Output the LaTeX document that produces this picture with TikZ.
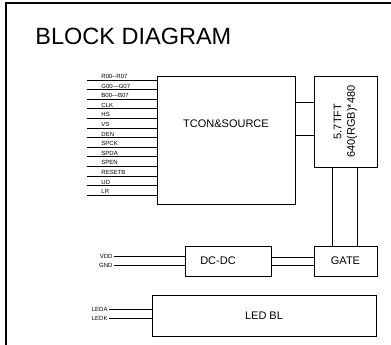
\documentclass[tikz,border=0pt]{standalone}
\usepackage{fontspec}
\setmainfont{Liberation Sans}
\usepackage{tikz}

\begin{document}
\begin{tikzpicture}[x=1pt, y=-1pt, line width=0.9pt,
    blk/.style={draw, rectangle, inner sep=0pt, font=\fontsize{11}{13.5}\selectfont},
    sig/.style={inner sep=1pt, font=\fontsize{6}{7}\selectfont}]

        \useasboundingbox (0,0) rectangle (391,345);

        % Moldura e titulo
        \draw[line width=1.3pt] (6,345) -- (6,3) -- (391,3);
        \node[anchor=base west, inner sep=0pt, font=\fontsize{23.5}{28}\selectfont] (titulo) at (35,45) {BLOCK DIAGRAM};

        % Blocos
        \node[blk, minimum width=138, minimum height=128,
              label={[font=\fontsize{11}{13.5}\selectfont, yshift=16pt]center:TCON\&SOURCE}] (tcon) at (226,140) {};
        \node[blk, minimum width=63, minimum height=91] (tft) at (345.5,121.5) {};
        \node[rotate=90, align=center, font=\fontsize{11}{13.5}\selectfont] (tfttxt) at (tft.center) {5.7TFT\\640(RGB)*480};
        \node[blk, minimum width=86, minimum height=30,
              label={[font=\fontsize{11}{13.5}\selectfont, xshift=-10pt]center:DC-DC}] (dcdc) at (228,261) {};
        \node[blk, minimum width=63, minimum height=30] (gate) at (345.5,261) {GATE};
        \node[blk, minimum width=224, minimum height=41] (led) at (264,315.5) {LED BL};

        % Ligacoes entre blocos
        \draw ([yshift=-27pt]tcon.north east) -- ([yshift=-27pt]tft.north west);
        \draw ([yshift=-60pt]tcon.north east) -- ([yshift=-60pt]tft.north west);
        \draw ([xshift=19pt]tft.south west) -- ([xshift=19pt]gate.north west);
        \draw ([xshift=44pt]tft.south west) -- ([xshift=44pt]gate.north west);
        \draw ([yshift=4pt]dcdc.east) -- ([yshift=4pt]gate.west);
        \draw ([yshift=-4pt]dcdc.east) -- ([yshift=-4pt]gate.west);

        % Sinais de entrada
        \foreach \n [count=\i from 0] in {R00{-}{-}R07, G00---G07, B00---B07, CLK, HS, VS, DEN,
                                          SPCK, SPDA, SPEN, RESETB, UD, LR} {
            \coordinate (s\i) at (87,80+9.6*\i);
            \node[sig, anchor=south west] (l\i) at (100,80+9.6*\i) {\n};
            \draw (s\i) -- (s\i -| tcon.west);
        }

        % Alimentacao
        \node[sig, anchor=east] (vdd) at (114,256) {VDD};
        \node[sig, anchor=east] (gnd) at (114,265) {GND};
        \draw (vdd.east) -- (vdd.east -| dcdc.west);
        \draw (gnd.east) -- (gnd.east -| dcdc.west);

        \node[sig, anchor=east] (leda) at (109,309) {LEDA};
        \node[sig, anchor=east] (ledk) at (109,318) {LEDK};
        \draw (leda.east) -- (leda.east -| led.west);
        \draw (ledk.east) -- (ledk.east -| led.west);

    \end{tikzpicture}
\end{document}
